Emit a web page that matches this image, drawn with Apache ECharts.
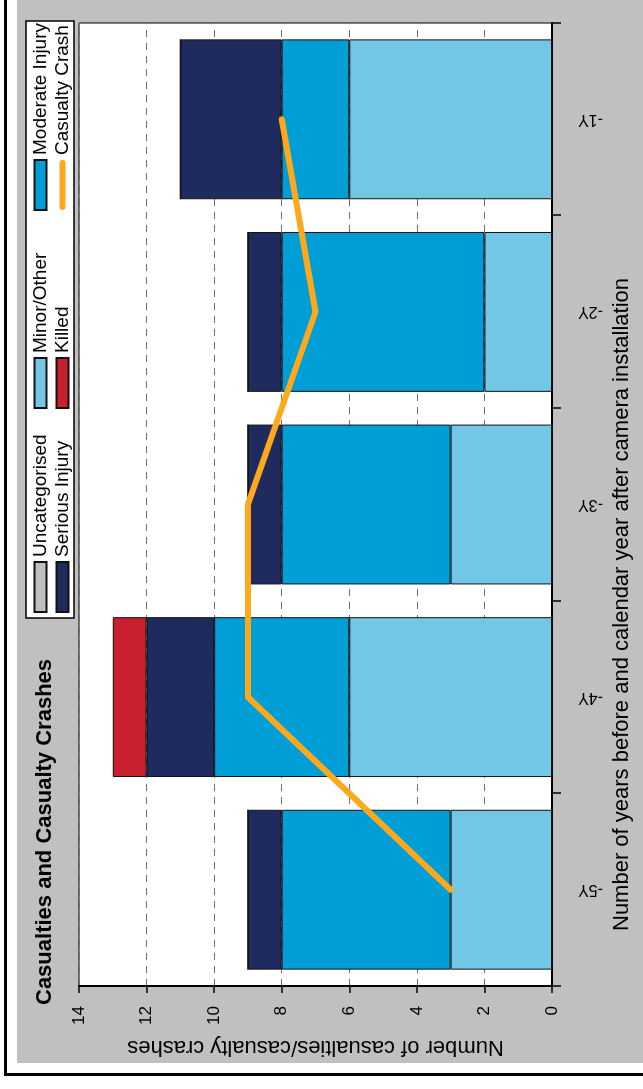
<!DOCTYPE html>
<html>
<head>
<meta charset="utf-8">
<script src="https://cdn.jsdelivr.net/npm/echarts@6/dist/echarts.min.js"></script>
<style>
html,body{margin:0;padding:0;width:643px;height:1089px;overflow:hidden;background:#fff;}
#wrap{position:absolute;left:0;top:0;width:1089px;height:643px;transform-origin:0 0;transform:translate(0,1089px) rotate(-90deg);}
#chart{width:1089px;height:643px;}
</style>
</head>
<body>
<div id="wrap"><div id="chart"></div></div>
<script>
// ---- data ----
const categories = ['-5Y', '-4Y', '-3Y', '-2Y', '-1Y'];
const uncategorised = [0, 0, 0, 0, 0];
const minorOther = [3, 6, 3, 2, 6];
const moderateInjury = [5, 4, 5, 6, 2];
const seriousInjury = [1, 2, 1, 1, 3];
const killed = [0, 1, 0, 0, 0];
const casualtyCrash = [3, 9, 9, 7, 8];
const valueTicks = [0, 2, 4, 6, 8, 10, 12, 14];

const FONT = "'Liberation Sans', Arial, sans-serif";
const C = {
  uncategorised: '#C0C0C0',
  minor: '#72C6E6',
  moderate: '#009ED6',
  serious: '#1F2B5E',
  killed: '#C8202F',
  line: '#FDA91B',
  bg: '#C0C0C0'
};

const chart = echarts.init(document.getElementById('chart'), null, {renderer: 'canvas'});

function barSeries(name, data, color) {
  return {
    name: name, type: 'bar', stack: 'total', data: data,
    barCategoryGap: '17%',
    itemStyle: {color: color, borderColor: '#111', borderWidth: 1},
    emphasis: {disabled: true}
  };
}

// rounded line icon (50 x 12 box, 6px thick stroke in the middle)
const LINE_ICON = 'path://M0,0M50,12M3,3L47,3A3,3,0,0,1,47,9L3,9A3,3,0,0,1,3,3Z';

function legendCol(left, names) {
  return {
    orient: 'vertical', left: left, top: 31, padding: 0,
    itemWidth: 50, itemHeight: 12, itemGap: 3,
    selectedMode: false,
    textStyle: {fontFamily: FONT, fontSize: 19, color: '#000'},
    data: names.map(n => n === 'Casualty Crash'
      ? {name: n, icon: LINE_ICON, itemStyle: {color: C.line, borderWidth: 0}}
      : {name: n, icon: 'rect'}),
    z: 5
  };
}

const option = {
  animation: false,
  backgroundColor: '#fff',
  textStyle: {fontFamily: FONT},
  graphic: [
    {type: 'rect', z: -10, shape: {x: 26, y: 17, width: 1070, height: 630}, style: {fill: C.bg}},
    {type: 'rect', z: -10, shape: {x: 13, y: 4, width: 1080, height: 3}, style: {fill: '#000'}},
    {type: 'rect', z: -10, shape: {x: 13, y: 4, width: 3, height: 645}, style: {fill: '#000'}},
    {type: 'rect', z: 1, shape: {x: 471, y: 26, width: 597, height: 48}, style: {fill: '#fff', stroke: '#000', lineWidth: 1.5}}
  ],
  title: {
    text: 'Casualties and Casualty Crashes',
    left: 84, top: 34, padding: 0,
    textStyle: {fontFamily: FONT, fontSize: 22, fontWeight: 'bold', color: '#000'}
  },
  legend: [
    legendCol(476, ['Uncategorised', 'Serious Injury']),
    legendCol(680, ['Minor/Other', 'Killed']),
    legendCol(878, ['Moderate Injury', 'Casualty Crash'])
  ],
  grid: {
    left: 103, right: 23, top: 79, bottom: 91,
    show: true, backgroundColor: '#fff', borderColor: '#000', borderWidth: 1
  },
  xAxis: {
    type: 'category', data: categories,
    axisLine: {show: true, lineStyle: {color: '#000', width: 2}},
    axisTick: {show: true, inside: false, length: 9, lineStyle: {color: '#000', width: 1.5}},
    axisLabel: {rotate: 90, margin: 26, fontSize: 16, color: '#000', fontFamily: FONT},
    name: 'Number of years before and calendar year after camera installation',
    nameLocation: 'middle', nameGap: 53,
    nameTextStyle: {fontSize: 22, color: '#000', fontFamily: FONT, padding: [0, 200, 0, 0]}
  },
  yAxis: {
    type: 'value', min: valueTicks[0], max: valueTicks[valueTicks.length - 1], interval: 2,
    axisLine: {show: true, lineStyle: {color: '#000', width: 2}},
    axisTick: {show: true, inside: false, length: 7, lineStyle: {color: '#000', width: 1.5}},
    axisLabel: {margin: 20, fontSize: 17, color: '#000', fontFamily: FONT},
    splitLine: {show: true, lineStyle: {color: '#6e6e6e', type: [7, 6], width: 1.2}},
    name: 'Number of casualties/casualty crashes',
    nameLocation: 'middle', nameGap: 50,
    nameTextStyle: {fontSize: 22, color: '#000', fontFamily: FONT}
  },
  series: [
    barSeries('Uncategorised', uncategorised, C.uncategorised),
    barSeries('Minor/Other', minorOther, C.minor),
    barSeries('Moderate Injury', moderateInjury, C.moderate),
    barSeries('Serious Injury', seriousInjury, C.serious),
    barSeries('Killed', killed, C.killed),
    {
      name: 'Casualty Crash', type: 'line', data: casualtyCrash,
      symbol: 'none', z: 10,
      lineStyle: {color: C.line, width: 6, cap: 'round', join: 'round'},
      itemStyle: {color: C.line},
      emphasis: {disabled: true}
    }
  ]
};
chart.setOption(option);
</script>
</body>
</html>
